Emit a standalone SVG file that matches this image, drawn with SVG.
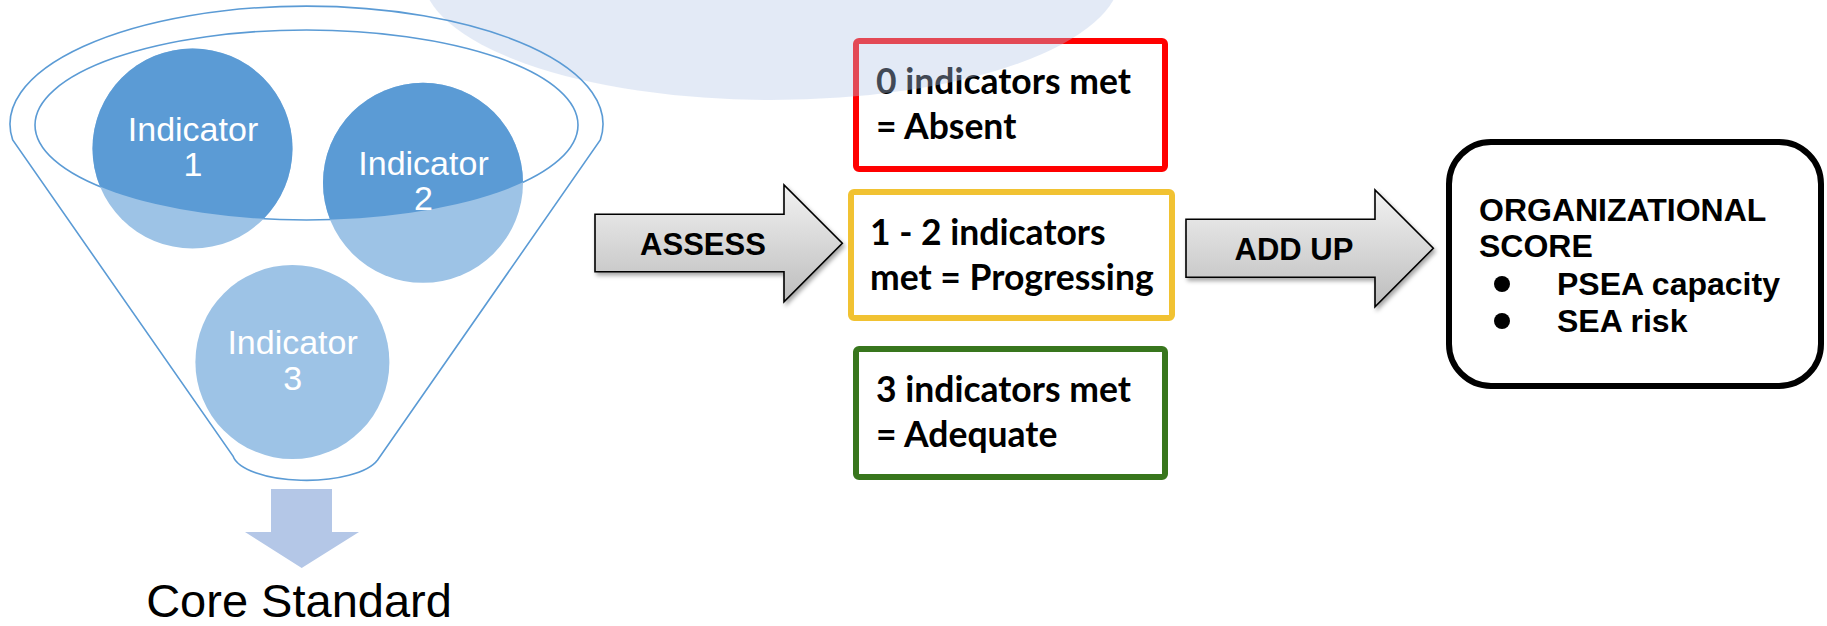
<svg xmlns="http://www.w3.org/2000/svg" width="1827" height="626" viewBox="0 0 1827 626">
  <style>
    .fl { fill: none; stroke: #5B9BD5; stroke-width: 1.6; }
    .ind { font-family: "Liberation Sans", Arial, sans-serif; font-size: 34px; fill: #FFFFFF; text-anchor: middle; }
    .box { fill: #FFFFFF; stroke-width: 6; }
    .bt { font-family: Lato, "Noto Sans", sans-serif; font-weight: bold; font-size: 35.5px; fill: #000000; }
    .arr { fill: url(#gg); stroke: #000000; stroke-width: 1.6; filter: url(#sh); }
    .at { font-family: "Liberation Sans", Arial, sans-serif; font-weight: bold; font-size: 31px; fill: #000000; text-anchor: middle; }
    .ot { font-family: "Liberation Sans", Arial, sans-serif; font-weight: bold; font-size: 32px; fill: #000000; }
  </style>
  <defs>
    <linearGradient id="gg" x1="0" y1="0" x2="0" y2="1">
      <stop offset="0" stop-color="#F2F2F2"/>
      <stop offset="1" stop-color="#BDBDBD"/>
    </linearGradient>
    <filter id="sh" x="-10%" y="-10%" width="130%" height="140%">
      <feDropShadow dx="2" dy="3" stdDeviation="2" flood-color="#000000" flood-opacity="0.35"/>
    </filter>
    <clipPath id="inner">
      <ellipse cx="306.5" cy="125" rx="271.5" ry="95"/>
    </clipPath>
  </defs>
  <rect width="1827" height="626" fill="#FFFFFF"/>

  <g id="box-absent">
    <rect class="box" x="856" y="41" width="309" height="128" rx="3" stroke="#FF0000"/>
    <text class="bt" x="876" y="94">0 indicators met</text>
    <text class="bt" x="876" y="139">= Absent</text>
  </g>

  <g id="backdrop">
    <ellipse cx="771.5" cy="-25" rx="349" ry="125" fill="#B4C7E7" opacity="0.37"/>
  </g>

  <g id="funnel">
    <path class="fl" d="M 12.7,140 A 296.5 118 0 1 1 600.3,140 L 377.6,460 A 74 28 0 0 1 233,456 Z"/>
    <ellipse class="fl" cx="306.5" cy="125" rx="271.5" ry="95"/>
  </g>

  <g id="indicator-1">
    <circle cx="192.5" cy="148.5" r="100" fill="#9DC3E6"/>
    <circle cx="192.5" cy="148.5" r="100" fill="#5B9BD5" clip-path="url(#inner)"/>
    <text class="ind" x="193" y="141">Indicator</text>
    <text class="ind" x="193" y="176">1</text>
  </g>
  <g id="indicator-2">
    <circle cx="423" cy="182.8" r="100" fill="#9DC3E6"/>
    <circle cx="423" cy="182.8" r="100" fill="#5B9BD5" clip-path="url(#inner)"/>
    <text class="ind" x="423.5" y="175">Indicator</text>
    <text class="ind" x="423.5" y="210">2</text>
  </g>
  <g id="indicator-3">
    <circle cx="292.4" cy="362" r="97" fill="#9DC3E6"/>
    <text class="ind" x="292.6" y="354">Indicator</text>
    <text class="ind" x="292.6" y="390">3</text>
  </g>

  <g id="core-standard">
    <path d="M 271,489 L 332,489 L 332,532 L 359,532 L 301.7,568 L 245,532 L 271,532 Z" fill="#B4C7E7"/>
    <text x="299" y="617" font-family="'Liberation Sans', Arial, sans-serif" font-size="47" fill="#000000" text-anchor="middle">Core Standard</text>
  </g>

  <g id="box-progressing">
    <rect class="box" x="851" y="192" width="321" height="126" rx="3" stroke="#F1C232"/>
    <text class="bt" x="870" y="245">1 - 2 indicators</text>
    <text class="bt" x="870" y="290">met = Progressing</text>
  </g>

  <g id="box-adequate">
    <rect class="box" x="856" y="349" width="309" height="128" rx="3" stroke="#38761D"/>
    <text class="bt" x="876" y="402">3 indicators met</text>
    <text class="bt" x="876" y="447">= Adequate</text>
  </g>

  <g id="connectors">
    <g id="assess">
      <path class="arr" d="M 595,214.3 L 784,214.3 L 784,185 L 842.3,243.3 L 784,301.7 L 784,271.7 L 595,271.7 Z"/>
      <text class="at" x="703" y="255">ASSESS</text>
    </g>
    <g id="add-up">
      <path class="arr" d="M 1186,219.3 L 1375,219.3 L 1375,190 L 1433.3,248.3 L 1375,306.7 L 1375,277.3 L 1186,277.3 Z"/>
      <text class="at" x="1294" y="260">ADD UP</text>
    </g>
  </g>

  <g id="organizational-score">
    <rect x="1449" y="142" width="372" height="244" rx="42" fill="#FFFFFF" stroke="#000000" stroke-width="6"/>
    <text class="ot" x="1479" y="221">ORGANIZATIONAL</text>
    <text class="ot" x="1479" y="257">SCORE</text>
    <circle cx="1502" cy="284" r="8" fill="#000000"/>
    <text class="ot" x="1557" y="295">PSEA capacity</text>
    <circle cx="1502" cy="321" r="8" fill="#000000"/>
    <text class="ot" x="1557" y="332">SEA risk</text>
  </g>
</svg>
